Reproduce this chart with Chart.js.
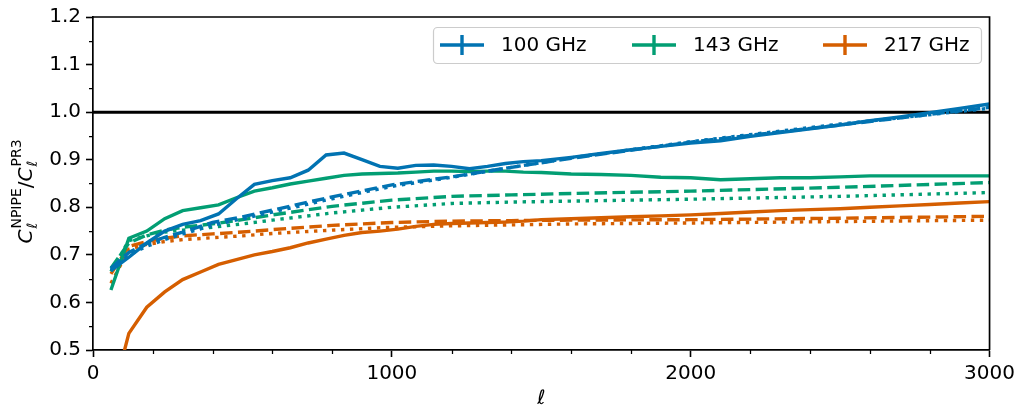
<!DOCTYPE html>
<html>
<head>
<meta charset="utf-8">
<script src="https://cdn.jsdelivr.net/npm/chart.js@4.4.1/dist/chart.umd.min.js"></script>
<style>
    html, body { margin: 0; padding: 0; background: #fff; }
    #wrap { width: 1020px; height: 410px; }
</style>
</head>
<body>
<div id="wrap"><canvas id="ratioChart" width="1020" height="410"></canvas></div>
<script>
// multipole bins of the measured spectra
const ellBins = [60, 120, 180, 240, 300, 360, 420, 480, 540, 600, 660, 720, 780, 840, 900, 960,
    1020, 1080, 1140, 1200, 1260, 1320, 1380, 1440, 1500, 1600, 1700, 1800, 1900, 2000,
    2100, 2200, 2300, 2400, 2500, 2600, 2700, 2800, 2900, 3000];

const ratio100 = [0.667, 0.695, 0.725, 0.750, 0.764, 0.772, 0.786, 0.818, 0.848, 0.856, 0.862, 0.878,
    0.910, 0.914, 0.900, 0.886, 0.882, 0.888, 0.889, 0.886, 0.881, 0.886, 0.892, 0.896, 0.898,
    0.905, 0.913, 0.921, 0.928, 0.935, 0.940, 0.949, 0.957, 0.965, 0.973, 0.982, 0.990, 0.999, 1.008, 1.017];

const ratio143 = [0.626, 0.735, 0.750, 0.776, 0.793, 0.799, 0.805, 0.820, 0.834, 0.841, 0.849, 0.855,
    0.861, 0.867, 0.870, 0.871, 0.872, 0.874, 0.876, 0.876, 0.875, 0.876, 0.876, 0.874, 0.873,
    0.870, 0.869, 0.867, 0.863, 0.862, 0.858, 0.860, 0.862, 0.862, 0.864, 0.866, 0.866, 0.866, 0.866, 0.866];

const ratio217 = [0.390, 0.535, 0.590, 0.622, 0.648, 0.664, 0.680, 0.690, 0.700, 0.707, 0.715, 0.725,
    0.733, 0.741, 0.747, 0.750, 0.754, 0.760, 0.764, 0.766, 0.767, 0.768, 0.769, 0.771, 0.774,
    0.776, 0.778, 0.780, 0.782, 0.784, 0.787, 0.790, 0.793, 0.795, 0.797, 0.800, 0.803, 0.806, 0.809, 0.812];

// smooth model curves (dashed and dotted)
const ellModel = [60, 120, 180, 240, 300, 400, 500, 600, 800, 1000, 1200, 1400, 1600, 2000, 2500, 3000];

const model100a = [0.672, 0.705, 0.724, 0.737, 0.748, 0.768, 0.780, 0.794, 0.822, 0.847, 0.864, 0.884, 0.903, 0.937, 0.973, 1.010];
const model100b = [0.668, 0.700, 0.718, 0.732, 0.744, 0.762, 0.776, 0.790, 0.818, 0.844, 0.863, 0.884, 0.904, 0.938, 0.975, 1.008];
const model143a = [0.672, 0.725, 0.742, 0.752, 0.758, 0.765, 0.774, 0.784, 0.802, 0.815, 0.823, 0.826, 0.829, 0.834, 0.842, 0.852];
const model143b = [0.665, 0.730, 0.740, 0.748, 0.752, 0.758, 0.765, 0.773, 0.788, 0.800, 0.808, 0.811, 0.813, 0.817, 0.823, 0.831];
const model217a = [0.660, 0.718, 0.728, 0.735, 0.740, 0.744, 0.748, 0.753, 0.762, 0.768, 0.771, 0.772, 0.773, 0.774, 0.777, 0.781];
const model217b = [0.640, 0.712, 0.722, 0.728, 0.732, 0.736, 0.740, 0.745, 0.752, 0.758, 0.761, 0.763, 0.765, 0.767, 0.770, 0.773];

const refLevel = 1.0;
const xRange = [0, 3000];
const yRange = [0.5, 1.2];
const xMajorTicks = [0, 1000, 2000, 3000];
const yMajorTicks = [0.5, 0.6, 0.7, 0.8, 0.9, 1.0, 1.1, 1.2];
const xMinorStep = 200;
const yMinorStep = 0.05;

const bandLabels = ["100 GHz", "143 GHz", "217 GHz"];
const bandColors = ["#0173B2", "#029E73", "#D55E00"];

const FONT = "DejaVu Sans";
const LW = 3.4;
const DASHED = [12.5, 5.4];
const DOTTED = [3.4, 5.6];

function toPoints(xs, ys) {
    return xs.map((x, i) => ({ x: x, y: ys[i] }));
}

function curve(xs, ys, color, dash, width) {
    return {
        data: toPoints(xs, ys),
        borderColor: color,
        borderWidth: width || LW,
        borderDash: dash,
        borderCapStyle: "butt",
        pointRadius: 0,
        tension: 0,
        fill: false
    };
}

// outward minor ticks plus the top and right spines
const axesFrame = {
    id: "axesFrame",
    afterDraw(chart) {
        const ctx = chart.ctx;
        const a = chart.chartArea;
        const xs = chart.scales.x;
        const ys = chart.scales.y;

        ctx.save();
        ctx.strokeStyle = "#000";
        ctx.lineWidth = 1.25;
        ctx.beginPath();
        for (let v = xRange[0] + xMinorStep; v < xRange[1]; v += xMinorStep) {
            if (xMajorTicks.includes(v)) continue;
            const px = Math.round(xs.getPixelForValue(v)) + 0.5;
            ctx.moveTo(px, a.bottom);
            ctx.lineTo(px, a.bottom + 4);
        }
        for (let k = 1; k < Math.round((yRange[1] - yRange[0]) / yMinorStep); k += 2) {
            const v = yRange[0] + k * yMinorStep;
            const py = Math.round(ys.getPixelForValue(v)) + 0.5;
            ctx.moveTo(a.left, py);
            ctx.lineTo(a.left - 4, py);
        }
        ctx.stroke();

        ctx.lineWidth = 1.7;
        ctx.beginPath();
        ctx.moveTo(a.left, a.top);
        ctx.lineTo(a.right, a.top);
        ctx.lineTo(a.right, a.bottom);
        ctx.stroke();
        ctx.restore();
    }
};

// axis titles written as small mathtext pieces
const axisTitles = {
    id: "axisTitles",
    afterDraw(chart) {
        const ctx = chart.ctx;
        const a = chart.chartArea;
        const big = "italic 20px '" + FONT + "'";
        const ell = "italic 14px '" + FONT + "'";
        const sup = "14px '" + FONT + "'";
        const up = "20px '" + FONT + "'";

        const groups = [
            { base: "C", sub: "\u2113", sup: "NPIPE" },
            { slash: "/" },
            { base: "C", sub: "\u2113", sup: "PR3" }
        ];

        ctx.save();
        ctx.fillStyle = "#000";
        ctx.textBaseline = "alphabetic";
        ctx.textAlign = "left";

        const widths = groups.map(g => {
            if (g.slash) { ctx.font = up; return ctx.measureText(g.slash).width; }
            ctx.font = big; const wb = ctx.measureText(g.base).width;
            ctx.font = ell; const w1 = ctx.measureText(g.sub).width;
            ctx.font = sup; const w2 = ctx.measureText(g.sup).width;
            return wb + 1 + Math.max(w1, w2);
        });
        const total = widths.reduce((s, w) => s + w, 0);

        ctx.translate(32, (a.top + a.bottom) / 2 + 8);
        ctx.rotate(-Math.PI / 2);
        let x = -total / 2;
        groups.forEach((g, i) => {
            if (g.slash) {
                ctx.font = up;
                ctx.fillText(g.slash, x, 0);
            } else {
                ctx.font = big;
                ctx.fillText(g.base, x, 0);
                const wb = ctx.measureText(g.base).width + 1;
                ctx.font = ell;
                ctx.fillText(g.sub, x + wb, 5);
                ctx.font = sup;
                ctx.fillText(g.sup, x + wb, -11);
            }
            x += widths[i];
        });
        ctx.restore();

        ctx.save();
        ctx.fillStyle = "#000";
        ctx.font = "italic 20px '" + FONT + "'";
        ctx.textAlign = "center";
        ctx.textBaseline = "middle";
        ctx.fillText("\u2113", (a.left + a.right) / 2, 399);
        ctx.restore();
    }
};

// legend box inside the upper right corner, errorbar style handles
const bandLegend = {
    id: "bandLegend",
    afterDraw(chart) {
        const ctx = chart.ctx;
        const box = { x: 433, y: 27, w: 548, h: 36 };
        const handleX = [440, 632, 823];
        const handleLen = 44;
        const cy = box.y + box.h / 2;

        ctx.save();
        ctx.fillStyle = "rgba(255,255,255,0.8)";
        ctx.strokeStyle = "#cccccc";
        ctx.lineWidth = 1.2;
        ctx.beginPath();
        if (ctx.roundRect) ctx.roundRect(box.x + 0.5, box.y + 0.5, box.w, box.h, 4);
        else ctx.rect(box.x + 0.5, box.y + 0.5, box.w, box.h);
        ctx.fill();
        ctx.stroke();

        ctx.font = "20px '" + FONT + "'";
        ctx.textBaseline = "middle";
        ctx.textAlign = "left";
        bandLabels.forEach((label, i) => {
            const x0 = handleX[i];
            ctx.strokeStyle = bandColors[i];
            ctx.lineWidth = LW;
            ctx.beginPath();
            ctx.moveTo(x0, cy);
            ctx.lineTo(x0 + handleLen, cy);
            ctx.moveTo(x0 + handleLen / 2, cy - 10);
            ctx.lineTo(x0 + handleLen / 2, cy + 10);
            ctx.stroke();
            ctx.fillStyle = "#000";
            ctx.fillText(label, x0 + handleLen + 17, cy + 1);
        });
        ctx.restore();
    }
};

const datasets = [
    curve(ellBins, ratio100, bandColors[0], []),
    curve(ellModel, model100a, bandColors[0], DASHED),
    curve(ellModel, model100b, bandColors[0], DOTTED),
    curve(ellBins, ratio143, bandColors[1], []),
    curve(ellModel, model143a, bandColors[1], DASHED),
    curve(ellModel, model143b, bandColors[1], DOTTED),
    curve(ellBins, ratio217, bandColors[2], []),
    curve(ellModel, model217a, bandColors[2], DASHED),
    curve(ellModel, model217b, bandColors[2], DOTTED),
    curve(xRange, [refLevel, refLevel], "#000", [], 3)
];

Chart.defaults.font.family = FONT;
Chart.defaults.color = "#000";

new Chart(document.getElementById("ratioChart"), {
    type: "line",
    data: { datasets: datasets },
    options: {
        responsive: false,
        animation: false,
        devicePixelRatio: 1,
        layout: {
            padding: { top: 16, right: 30, bottom: 0, left: 0 }
        },
        plugins: {
            legend: { display: false },
            tooltip: { enabled: false }
        },
        scales: {
            x: {
                type: "linear",
                min: xRange[0],
                max: xRange[1],
                afterBuildTicks: s => { s.ticks = xMajorTicks.map(v => ({ value: v })); },
                afterFit: s => { s.height = 60; },
                grid: {
                    drawOnChartArea: false,
                    drawTicks: true,
                    tickLength: 7,
                    tickColor: "#000",
                    tickWidth: 1.6
                },
                border: { display: true, color: "#000", width: 1.7 },
                ticks: {
                    font: { size: 20 },
                    padding: 5,
                    maxRotation: 0,
                    callback: v => String(v)
                }
            },
            y: {
                type: "linear",
                min: yRange[0],
                max: yRange[1],
                afterBuildTicks: s => { s.ticks = yMajorTicks.map(v => ({ value: v })); },
                afterFit: s => { s.width = 93; },
                grid: {
                    drawOnChartArea: false,
                    drawTicks: true,
                    tickLength: 7,
                    tickColor: "#000",
                    tickWidth: 1.6
                },
                border: { display: true, color: "#000", width: 1.7 },
                ticks: {
                    font: { size: 20 },
                    padding: 5,
                    callback: v => Number(v).toFixed(1)
                }
            }
        }
    },
    plugins: [axesFrame, axisTitles, bandLegend]
});
</script>
</body>
</html>
